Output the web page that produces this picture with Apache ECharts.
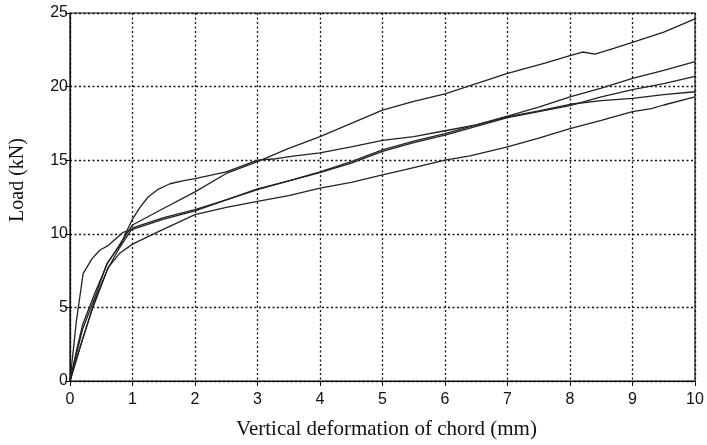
<!DOCTYPE html>
<html>
<head>
<meta charset="utf-8">
<script src="https://cdn.jsdelivr.net/npm/echarts@6/dist/echarts.min.js"></script>
<style>
  html, body { margin: 0; padding: 0; background: #fff; }
  #chart { width: 707px; height: 445px; }
</style>
</head>
<body>
<div id="chart"></div>
<script>
// load vs vertical deformation, five tests
const xTicks = [0, 1, 2, 3, 4, 5, 6, 7, 8, 9, 10]
const yTicks = [0, 5, 10, 15, 20, 25]

// top curve (steady rise)
const curveTop = [
  [0, 0], [0.1, 2], [0.2, 3.8], [0.4, 6.0], [0.6, 8.0], [0.8, 9.3], [1, 10.6],
  [1.44, 11.6], [2, 12.85], [2.5, 14.1], [3, 14.9], [3.5, 15.8], [4, 16.6],
  [4.5, 17.5], [5, 18.4], [5.5, 19.0], [6, 19.5], [6.5, 20.2], [7, 20.9],
  [7.6, 21.6], [8, 22.1], [8.2, 22.35], [8.4, 22.2], [8.7, 22.6], [9, 23.0],
  [9.5, 23.7], [10, 24.6]
]
// curve with the early plateau, flattens at the end
const curvePlateau = [
  [0, 0], [0.1, 1.8], [0.2, 3.5], [0.4, 5.7], [0.59, 7.97], [0.81, 9.3],
  [1, 11.0], [1.12, 11.8], [1.25, 12.5], [1.4, 13.0], [1.6, 13.4], [1.8, 13.6],
  [2, 13.75], [2.5, 14.2], [3, 15.0], [3.3, 15.1], [3.6, 15.3], [4, 15.5],
  [4.5, 15.9], [5, 16.35], [5.5, 16.6], [6, 17.0], [6.5, 17.4], [7, 17.95],
  [7.5, 18.35], [8, 18.8], [8.5, 19.05], [9, 19.2], [9.5, 19.45], [10, 19.65]
]
// the two near-overlapping middle curves
const curveMidA = [
  [0, 0], [0.2, 2.8], [0.4, 5.5], [0.6, 7.6], [0.8, 9.1], [1, 10.4],
  [1.5, 11.1], [2, 11.65], [2.5, 12.3], [3, 13.0], [3.5, 13.6], [4, 14.2],
  [4.5, 14.9], [5, 15.7], [5.5, 16.3], [6, 16.8], [6.5, 17.4], [7, 18.0],
  [7.5, 18.6], [8, 19.3], [8.5, 19.9], [9, 20.56], [9.5, 21.1], [10, 21.7]
]
const curveMidB = [
  [0, 0], [0.1, 4], [0.21, 7.3], [0.35, 8.3], [0.48, 8.9], [0.61, 9.2],
  [0.85, 10.1], [1, 10.3], [1.5, 11.0], [2, 11.55], [2.5, 12.3], [3, 13.05],
  [3.5, 13.6], [4, 14.15], [4.5, 14.8], [5, 15.6], [5.5, 16.2], [6, 16.7],
  [6.5, 17.3], [7, 17.9], [7.5, 18.3], [8, 18.7], [8.5, 19.3], [9, 19.8],
  [9.5, 20.2], [10, 20.7]
]
// lowest curve
const curveLow = [
  [0, 0], [0.16, 2.3], [0.35, 4.8], [0.61, 7.7], [0.8, 8.7], [1, 9.3],
  [1.44, 10.2], [2, 11.3], [2.5, 11.8], [3, 12.2], [3.5, 12.6], [4, 13.1],
  [4.5, 13.5], [5, 14.0], [5.5, 14.5], [6, 15.0], [6.4, 15.3], [7, 15.9],
  [7.5, 16.5], [8, 17.15], [8.5, 17.7], [9, 18.3], [9.3, 18.5], [9.5, 18.75],
  [10, 19.3]
]

const curves = [curveTop, curvePlateau, curveMidA, curveMidB, curveLow]

const chart = echarts.init(document.getElementById('chart'))

const dotted = { color: '#111', width: 1.3, type: [2, 2.5] }

const option = {
  backgroundColor: '#fff',
  animation: false,
  grid: {
    left: 70,
    right: 12,
    top: 13,
    bottom: 64,
    show: true,
    borderColor: '#111',
    borderWidth: 1.2
  },
  xAxis: {
    type: 'value',
    min: xTicks[0],
    max: xTicks[xTicks.length - 1],
    interval: 1,
    name: 'Vertical deformation of chord (mm)',
    nameLocation: 'middle',
    nameGap: 38,
    nameTextStyle: { fontFamily: 'Liberation Serif', fontSize: 21, color: '#111', padding: [0, 0, 0, 8] },
    axisLine: { show: true, lineStyle: { color: '#111', width: 1.2 } },
    axisTick: { show: true, length: 5, inside: false, lineStyle: { color: '#111' } },
    axisLabel: { fontFamily: 'Liberation Sans', fontSize: 16, color: '#111', margin: 11 },
    splitLine: { show: true, lineStyle: dotted }
  },
  yAxis: {
    type: 'value',
    min: yTicks[0],
    max: yTicks[yTicks.length - 1],
    interval: 5,
    name: 'Load (kN)',
    nameLocation: 'middle',
    nameGap: 42,
    nameTextStyle: { fontFamily: 'Liberation Serif', fontSize: 20, color: '#111', padding: [0, 0, 0, 34] },
    axisLine: { show: true, lineStyle: { color: '#111', width: 1.2 } },
    axisTick: { show: true, length: 5, inside: false, lineStyle: { color: '#111' } },
    axisLabel: { fontFamily: 'Liberation Sans', fontSize: 16, color: '#111', margin: 2 },
    splitLine: { show: true, lineStyle: dotted }
  },
  series: curves.map((c) => ({
    type: 'line',
    data: c,
    symbol: 'none',
    smooth: false,
    lineStyle: { color: '#222', width: 1.3 }
  }))
}

chart.setOption(option)
</script>
</body>
</html>
